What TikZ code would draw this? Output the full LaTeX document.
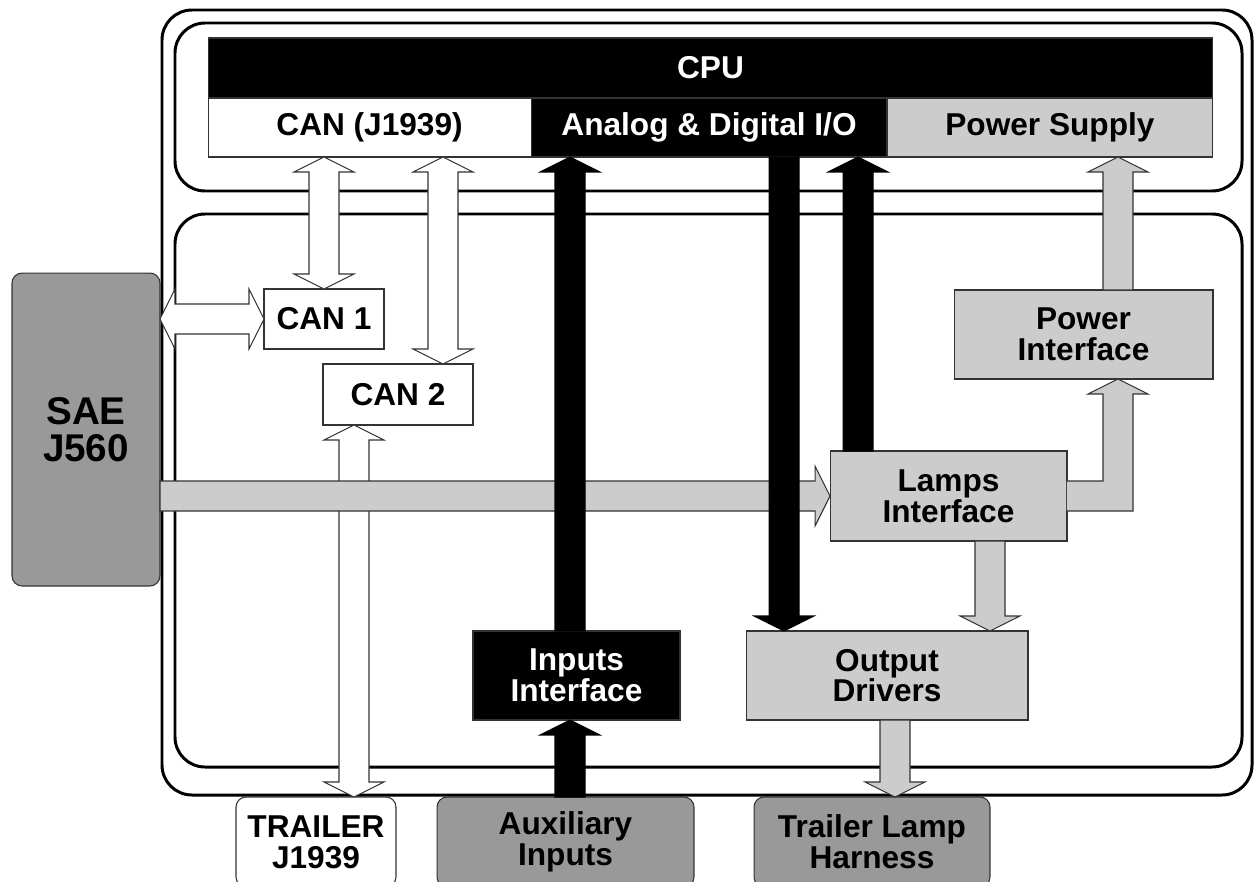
\documentclass[tikz,border=0pt]{standalone}
\usepackage{fontspec}
\setmainfont{Liberation Sans}
\usetikzlibrary{positioning,calc}
\definecolor{lgray}{HTML}{CCCCCC}
\definecolor{dgray}{HTML}{999999}

\begin{document}
\begin{tikzpicture}[
  x=0.02cm, y=-0.02cm,
  font=\bfseries\fontsize{18}{17.5}\selectfont,
  panel/.style={draw, line width=1.7pt, rounded corners=0.6cm},
  box/.style={draw=black!80, line width=0.6pt, align=center, inner sep=0pt, outer sep=0pt},
  wbox/.style={box, fill=white},
  gbox/.style={box, fill=lgray},
  bbox/.style={box, fill=black, text=white},
  ext/.style={box, fill=dgray, rounded corners=0.2cm},
  fatline/.style={draw=black!80, line width=0.6pt},
  fat/.style={fatline, to path={
    let \p1=(\tikztostart), \p2=(\tikztotarget), \p3=($(\p2)!0.3cm!(\p1)$) in
    ($(\p1)!0.3cm!90:(\p2)$) -- ($(\p3)!0.3cm!90:(\p2)$) -- ($(\p3)!0.6cm!90:(\p2)$) -- (\p2)
    -- ($(\p3)!0.6cm!-90:(\p2)$) -- ($(\p3)!0.3cm!-90:(\p2)$) -- ($(\p1)!0.3cm!-90:(\p2)$) -- cycle}},
  dfat/.style={fatline, fill=white, to path={
    let \p1=(\tikztostart), \p2=(\tikztotarget), \p3=($(\p2)!0.3cm!(\p1)$), \p4=($(\p1)!0.3cm!(\p2)$) in
    ($(\p4)!0.3cm!90:(\p2)$) -- ($(\p3)!0.3cm!90:(\p2)$) -- ($(\p3)!0.6cm!90:(\p2)$) -- (\p2)
    -- ($(\p3)!0.6cm!-90:(\p2)$) -- ($(\p3)!0.3cm!-90:(\p2)$) -- ($(\p4)!0.3cm!-90:(\p2)$)
    -- ($(\p4)!0.6cm!-90:(\p2)$) -- (\p1) -- ($(\p4)!0.6cm!90:(\p2)$) -- cycle}}
]
\path[use as bounding box, clip] (0,0) rectangle (1254,882);

\draw[panel] (162,10) rectangle (1252,795);
\draw[panel] (175,23) rectangle (1242,191);
\draw[panel] (175,214) rectangle (1242,767);

\node[bbox, minimum width=20.1cm, minimum height=1.2cm] (cpu) at (710.5,68) {CPU};
\node[wbox, minimum width=6.46cm, minimum height=1.18cm, below right=0pt and 0pt of cpu.south west] (canj) {CAN (J1939)};
\node[bbox, minimum width=7.12cm, minimum height=1.18cm, right=0pt of canj] (adio) {Analog \& Digital I/O};
\node[gbox, minimum width=6.52cm, minimum height=1.18cm, right=0pt of adio] (psup) {Power Supply};

\node[wbox, minimum width=2.4cm, minimum height=1.2cm] (can1) at (324,319) {CAN 1};
\node[wbox, minimum width=3cm, minimum height=1.22cm] (can2) at (398,394.5) {CAN 2};
\node[ext, minimum width=2.96cm, minimum height=6.26cm, font=\bfseries\fontsize{22}{21}\selectfont] (sae) at (86,429.5) {SAE\\J560};
\node[gbox, minimum width=5.18cm, minimum height=1.78cm] (pwrif) at (1083.5,334.5) {Power\\Interface};
\node[gbox, minimum width=4.74cm, minimum height=1.8cm] (lamps) at (948.5,496) {Lamps\\Interface};
\node[gbox, minimum width=5.64cm, minimum height=1.78cm] (outdrv) at (887,675.5) {Output\\Drivers};
\node[bbox, minimum width=4.14cm, minimum height=1.78cm] (inif) at (576.5,675.5) {Inputs\\Interface};
\node[ext, fill=white, minimum width=3.2cm, minimum height=1.8cm] (trl) at (316,842) {TRAILER\\J1939};
\node[ext, minimum width=5.14cm, minimum height=1.8cm] (aux) at (565.5,842) {Auxiliary\\Inputs};
\node[ext, minimum width=4.72cm, minimum height=1.8cm] (harn) at (872,842) {Trailer Lamp\\Harness};

\coordinate (c2in) at ([xshift=0.9cm]can2.north);
\coordinate (c2out) at ([xshift=-0.88cm]can2.south);
\coordinate (inup) at ([xshift=-0.13cm]inif.north);
\coordinate (indn) at ([xshift=-0.13cm]inif.south);
\coordinate (odin) at ([xshift=-2.06cm]outdrv.north);
\coordinate (odout) at ([xshift=0.16cm]outdrv.south);
\coordinate (lmup) at ([xshift=-1.81cm]lamps.north);
\coordinate (lmdn) at ([xshift=0.83cm]lamps.south);
\coordinate (pwup) at ([xshift=0.69cm]pwrif.north);
\coordinate (pwdn) at ([xshift=0.69cm]pwrif.south);

\path (canj.south -| can1.north) edge[dfat] (can1.north)
  (c2in |- canj.south) edge[dfat] (c2in)
  (sae.east |- can1.west) edge[dfat] (can1.west)
  (c2out) edge[dfat] (c2out |- trl.north);

\path (sae.east |- lamps.west) edge[fat, fill=lgray] (lamps.west)
  (lmdn) edge[fat, fill=lgray] (lmdn |- outdrv.north)
  (pwup) edge[fat, fill=lgray] (pwup |- psup.south)
  (odout) edge[fat, fill=lgray] (odout |- harn.north);
\draw[fatline, fill=lgray] let \p1=(lamps.east), \p2=(pwdn) in
  (\x1,\y1+0.3cm) -- (\x2-0.3cm,\y1+0.3cm) -- (\x2-0.3cm,\y2-0.3cm) -- (\x2-0.6cm,\y2-0.3cm) -- (\x2,\y2)
  -- (\x2+0.6cm,\y2-0.3cm) -- (\x2+0.3cm,\y2-0.3cm) -- (\x2+0.3cm,\y1-0.3cm) -- (\x1,\y1-0.3cm);

\path (indn |- aux.north) edge[fat, fill=black, draw=black] (indn)
  (inup) edge[fat, fill=black, draw=black] (inup |- adio.south)
  (odin |- adio.south) edge[fat, fill=black, draw=black] (odin)
  (lmup) edge[fat, fill=black, draw=black] (lmup |- adio.south);
\end{tikzpicture}
\end{document}
